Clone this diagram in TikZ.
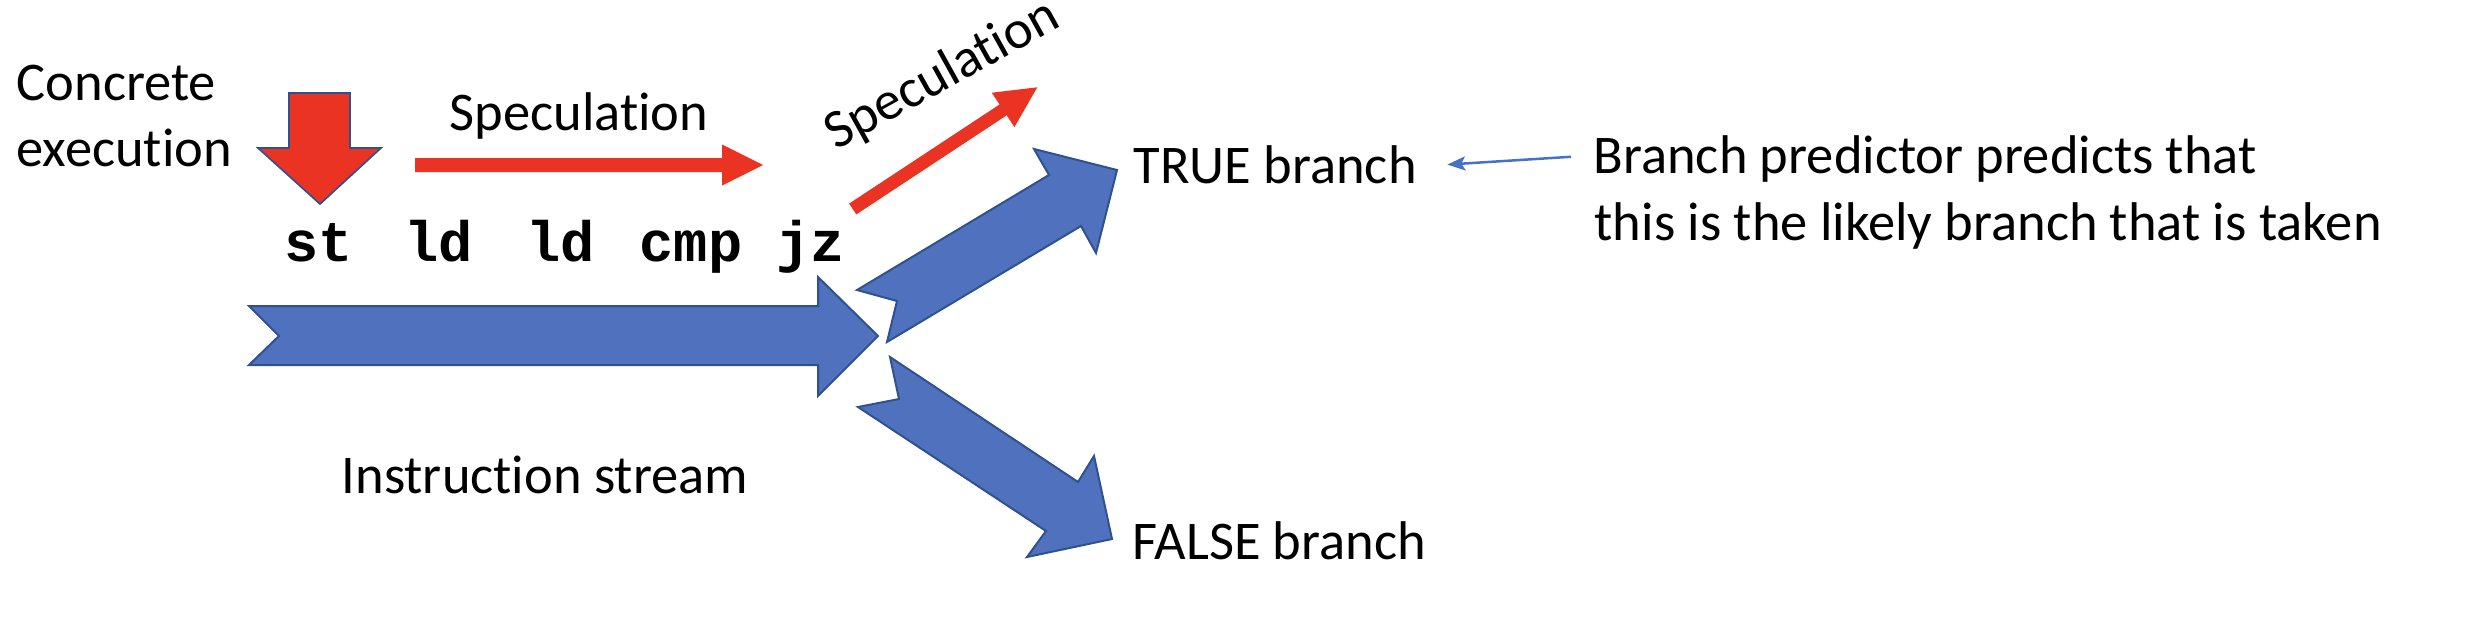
\documentclass[tikz,border=0pt]{standalone}
\usepackage{fontspec}
\setmainfont{Carlito}[Ligatures={NoCommon,NoContextual},RawFeature={-liga;-clig}]
\newfontfamily\codefont{Liberation Mono}
\newcommand{\nolig}{\kern0pt}
\usetikzlibrary{arrows.meta,calc}
\definecolor{rred}{RGB}{234,51,35}
\definecolor{bfill}{RGB}{80,114,190}
\definecolor{bline}{RGB}{47,82,143}
\definecolor{thinblue}{RGB}{68,114,196}
\tikzset{
  lbl/.style={anchor=base west, inner sep=0pt, font=\fontsize{16.35pt}{20pt}\selectfont},
  code/.style={anchor=base west, inner sep=0pt, font=\fontsize{17.1pt}{20pt}\selectfont\codefont\bfseries},
  redarrow/.style={fill=rred, draw=none},
  redoutlined/.style={fill=rred, draw=bline, line width=0.5pt, line join=miter},
  bluearrow/.style={fill=bfill, draw=bline, line width=0.6pt, line join=miter},
  thinarrow/.style={draw=thinblue, line width=0.75pt, -{Stealth[length=5.4pt,width=4.2pt,inset=1.2pt]}}
}
\begin{document}
\begin{tikzpicture}[x=0.3pt,y=-0.3pt]
\useasboundingbox (0,0) rectangle (2466,618);
% texts
\node[lbl] (conc1) at (16,100.7) {Concrete};
\node[lbl] (conc2) at (16,166.7) {execut\nolig ion};
\node[lbl] (spec1) at (449,130) {Speculat\nolig ion};
\node[lbl, rotate=29] (spec2) at (836,151) {Speculat\nolig ion};
\node[code] (st) at (284,261) {st};
\node[code] (ld1) at (403.5,261) {ld};
\node[code] (ld2) at (525.5,261) {ld};
\node[code] (cmp) at (639,261) {cmp};
\node[code] (jz) at (776,261) {jz};
\node[lbl] (true) at (1133,183.3) {TRUE branch};
\node[lbl] (false) at (1132,559) {FALSE branch};
\node[lbl] (instr) at (341,493) {Instruct\nolig ion stream};
\node[lbl] (pred1) at (1593,173.3) {Branch predictor predicts that};
\node[lbl] (pred2) at (1594,240) {this is the likely branch that is taken};
% red arrows
\draw[redoutlined] (289,93) -- (350,93) -- (350,148) -- (381,148) -- (320,204) -- (258,148) -- (289,148) -- cycle;
\fill[redarrow] (415,158) -- (722,158) -- (722,144.5) -- (763,165) -- (722,185.5) -- (722,172) -- (415,172) -- cycle;
\fill[redarrow] (849.1,203.6) -- (999.5,104.5) -- (991.8,92.7) -- (1037.3,87.3) -- (1014.4,127.1) -- (1006.7,115.3) -- (856.3,214.4) -- cycle;
% blue arrows
\draw[bluearrow] (249,306) -- (818,306) -- (818,277) -- (878,336) -- (818,396) -- (818,365) -- (249,365) -- (279,336) -- cycle;
\draw[bluearrow] (857,290) -- (897,301) -- (887,342) -- (1081,226) -- (1096,253) -- (1117,170) -- (1034,149) -- (1049,175) -- cycle;
\draw[bluearrow] (890,357) -- (899,399) -- (858,407) -- (1046,531) -- (1027,557) -- (1112,539) -- (1094,456) -- (1078,482) -- cycle;
% thin connector
\draw[thinarrow] ($(pred1.west)+(-22,-2)$) -- ($(true.east)+(30,0)$);
\end{tikzpicture}
\end{document}
